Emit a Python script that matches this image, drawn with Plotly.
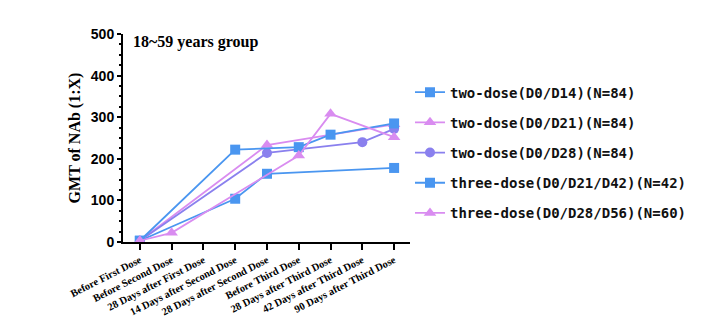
import plotly.graph_objects as go

# Time points on the x axis
timepoints = [
    "Before First Dose",
    "Before Second Dose",
    "28 Days after First Dose",
    "14 Days after Second Dose",
    "28 Days after Second Dose",
    "Before Third Dose",
    "28 Days after Third Dose",
    "42 Days after Third Dose",
    "90 Days after Third Dose",
]

# GMT of neutralising antibody per schedule (None = not measured)
two_dose_d14 = [3, None, None, 104, 164, None, None, None, 178]
two_dose_d21 = [3, None, None, None, 233, None, None, None, 283]
two_dose_d28 = [3, None, None, None, 214, None, None, 240, 272]
three_dose_d42 = [3, None, None, 222, None, 228, 258, None, 285]
three_dose_d56 = [3, 22, None, None, None, 208, 308, None, 252]

series_names = [
    "two-dose(D0/D14)(N=84)",
    "two-dose(D0/D21)(N=84)",
    "two-dose(D0/D28)(N=84)",
    "three-dose(D0/D21/D42)(N=42)",
    "three-dose(D0/D28/D56)(N=60)",
]
y_ticks = [0, 100, 200, 300, 400, 500]

BLUE = "#4A96F0"
PINK = "#D98CF0"
PURPLE = "#8A80EE"

styles = [
    (BLUE, "square", 10),
    (PINK, "triangle-up", 11),
    (PURPLE, "circle", 10),
    (BLUE, "square", 10),
    (PINK, "triangle-up", 11),
]
all_series = [two_dose_d14, two_dose_d21, two_dose_d28, three_dose_d42, three_dose_d56]

fig = go.Figure()
for i, (name, vals, (col, sym, size)) in enumerate(zip(series_names, all_series, styles)):
    fig.add_trace(go.Scatter(
        x=timepoints, y=vals, name=name, mode="lines+markers",
        connectgaps=True, legendgroup=f"g{i}",
        line=dict(color=col, width=1.8),
        marker=dict(color=col, symbol=sym, size=size),
    ))

fig.update_layout(
    width=704, height=328,
    margin=dict(l=123, r=292, t=34, b=86),
    paper_bgcolor="white", plot_bgcolor="white",
    showlegend=True,
    legend=dict(
        x=1.0, xanchor="left", y=0.43, yanchor="middle",
        font=dict(family="DejaVu Sans Mono", size=14, color="#111", weight="bold"),
        tracegroupgap=9, itemwidth=30,
        bgcolor="rgba(0,0,0,0)",
    ),
    annotations=[dict(
        text="18~59 years group", xref="paper", yref="paper",
        x=0.028, y=0.96, xanchor="left", yanchor="middle", showarrow=False,
        font=dict(family="Liberation Serif", size=16, color="black", weight="bold"),
    )],
)

fig.update_xaxes(
    type="category", range=[-0.53, 8.5],
    showline=True, linecolor="black", linewidth=2,
    ticks="outside", ticklen=6, tickwidth=1.5, tickcolor="black",
    tickangle=-27, showgrid=False, zeroline=False,
    tickfont=dict(family="Liberation Serif", size=10.5, color="black", weight="bold"),
)
fig.update_yaxes(
    range=[0, 500], tickvals=y_ticks,
    showline=True, linecolor="black", linewidth=2,
    ticks="outside", ticklen=4, tickwidth=2, tickcolor="black",
    minor=dict(dtick=25, ticks="outside", ticklen=2, tickwidth=1.5, tickcolor="black"),
    showgrid=False, zeroline=False,
    tickfont=dict(family="Liberation Sans", size=14, color="black", weight="bold"),
    title=dict(text="GMT of NAb (1:X)", standoff=6,
               font=dict(family="Liberation Serif", size=16, color="black", weight="bold")),
)

fig.write_html("out.html")
